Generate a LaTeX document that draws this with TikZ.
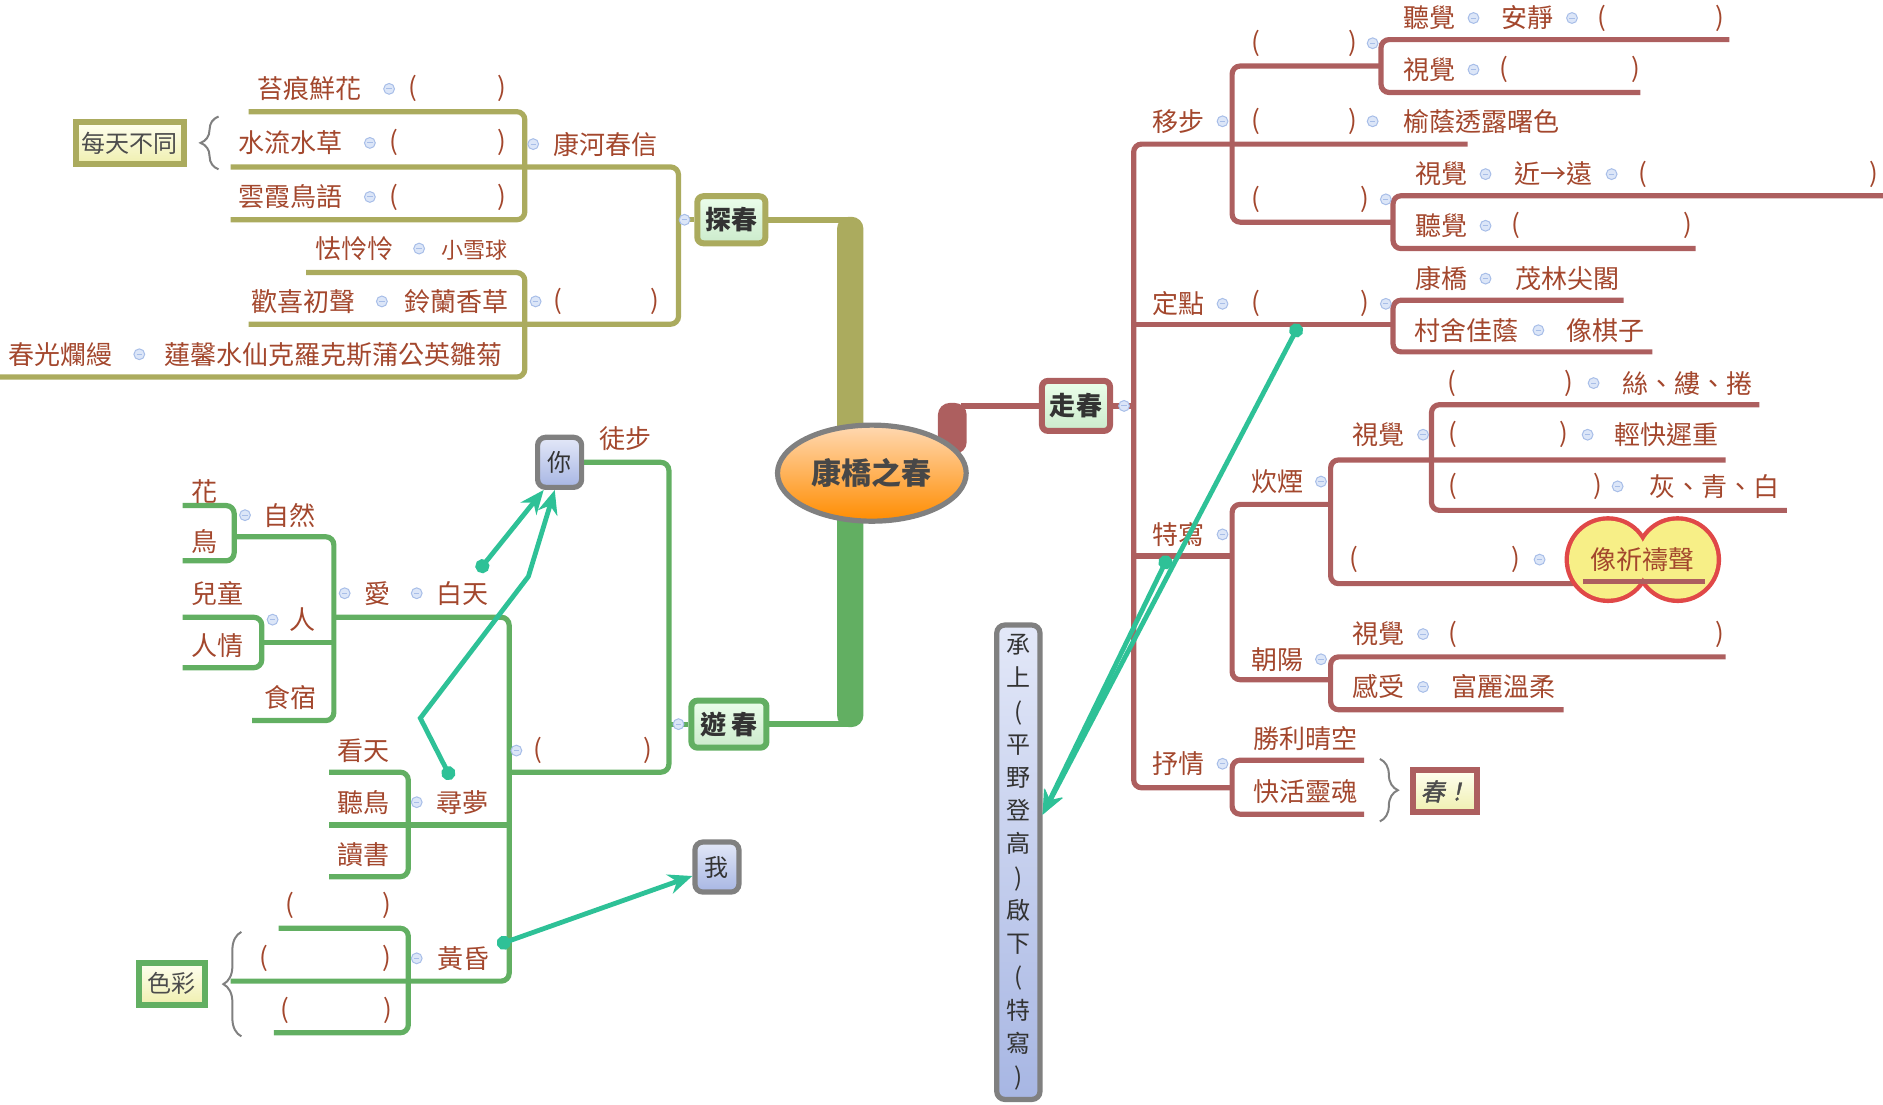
\documentclass[tikz,border=0pt]{standalone}
\usepackage{fontspec}
\setmainfont{Noto Sans CJK TC}
\newfontfamily\slfont[FakeSlant=0.22,FakeBold=1.5]{Noto Sans CJK TC}
\usetikzlibrary{arrows.meta,shapes.geometric,decorations.pathreplacing}

\definecolor{olivec}{HTML}{ABAB5E}
\definecolor{greenc}{HTML}{62AF62}
\definecolor{redc}{HTML}{AD5F5F}
\definecolor{labc}{HTML}{A3472D}
\definecolor{tealc}{HTML}{2EC197}
\definecolor{togf}{HTML}{DCE6F8}
\definecolor{togd}{HTML}{A8BEE8}
\definecolor{inkc}{HTML}{333333}
\definecolor{greyc}{HTML}{808080}
\definecolor{cloudy}{HTML}{F7EF87}
\definecolor{cloudr}{HTML}{E04848}
\definecolor{persont}{HTML}{E3E8F8}
\definecolor{personb}{HTML}{A7B6E3}

% blank ( ) of a given width
\newcommand{\bk}[1]{(\hspace*{\dimexpr 0.6pt*#1-4pt\relax})}
% collapse marker
\newcommand{\togl}[1]{\draw[togd,fill=togf,line width=0.5pt] #1 circle (4.5);
  \draw[togd,line width=0.5pt] #1 ++(-2.2,0) -- ++(4.4,0);}

\tikzset{
  lbl/.style={text=labc,font=\fontsize{13}{13}\selectfont,inner sep=0pt},
  small/.style={lbl,font=\fontsize{11}{11}\selectfont},
  limb/.style={#1,line width=2.6pt,rounded corners=4pt},
  topic/.style={rounded corners=3pt,line width=3pt,top color=black!3!green!8,bottom color=green!60!black!20,
    minimum width=34pt,minimum height=23.5pt,text=inkc,font=\bfseries\fontsize{13}{13}\selectfont},
  boxy/.style={line width=3pt,top color=yellow!6,bottom color=yellow!50!olive!25,
    minimum height=21pt,inner xsep=3pt,text=black!70,font=\fontsize{12}{12}\selectfont},
  person/.style={rounded corners=4pt,draw=greyc,line width=2.6pt,top color=persont,bottom color=personb,
    minimum width=22pt,minimum height=25pt,text=inkc,font=\fontsize{12}{12}\selectfont},
  link/.style={tealc,line width=2.4pt,{Circle[length=7pt]}-{Stealth[length=12pt,width=10pt]}},
  brc/.style={black!50,line width=1pt,decorate,decoration={brace,amplitude=#1}}
}

\begin{document}
\begin{tikzpicture}[x=0.6pt,y=-0.6pt]
\useasboundingbox (0,0) rectangle (1568,920);

% main topics
\node[topic,draw=olivec] (tc) at (609,183) {探春};
\node[topic,draw=greenc,minimum width=37.5pt] (yc) at (607,603) {遊\,春};
\node[topic,draw=redc,minimum height=25pt] (zc) at (896,338) {走春};

% trunks
\fill[olivec,rounded corners=6pt] (697,180.5) rectangle (719,380);
\draw[olivec,line width=3pt] (tc.east) -- (705,183);
\fill[greenc,rounded corners=6pt] (697,410) rectangle (719,605.5);
\draw[greenc,line width=3pt] (yc.east) -- (705,603);
\fill[redc,rounded corners=6pt] (781,335.5) rectangle (805,378);
\draw[redc,line width=3pt] (800,338) -- (zc.west);

\node[ellipse,draw=greyc,line width=2.6pt,top color=orange!30!white,bottom color=orange!90!yellow,
  minimum width=94pt,minimum height=48pt,text=black!72,font=\bfseries\fontsize{15}{15}\selectfont] (kq) at (726,394) {康橋之春};

% 探春
\draw[limb=olivec] (207,93) -| (437,183) -- (192,183);
\draw[limb=olivec] (192,139) -| (565,270) -- (207,270);
\draw[limb=olivec] (255,227) -| (437,314) -- (0,314);
\draw[limb=olivec] (565,183) -- (tc.west);
\togl{(570,183)}
\node[lbl] (kh) at (504,120) {康河春信};
\togl{(444,120)}
\node[lbl] (th) at (258,74) {苔痕鮮花};
\togl{(324,74)}
\node[lbl] (thq) at (381,74) {\bk{74}};
\node[lbl] (sl) at (242,119) {水流水草};
\togl{(308,119)}
\node[lbl] (slq) at (373,119) {\bk{90}};
\node[lbl] (yx) at (242,164) {雲霞鳥語};
\togl{(308,164)}
\node[lbl] (yxq) at (373,164) {\bk{90}};
\node[boxy,draw=olivec,minimum width=52pt] (mt) at (108,119) {每天不同};
\draw[brc=9pt] (182,141) -- (182,97);
\node[lbl] (ql) at (295,207) {怯怜怜};
\togl{(349,207)}
\node[small] (xq) at (395,208) {小雪球};
\node[lbl] (hx) at (253,251) {歡喜初聲};
\togl{(318,251)}
\node[lbl] (ll) at (380,251) {鈴蘭香草};
\togl{(446,251)}
\node[lbl] (llq) at (505,251) {\bk{80}};
\node[lbl] (cg) at (50,295) {春光爛縵};
\togl{(116,295)}
\node[lbl] (lx) at (278,295) {蓮馨水仙克羅克斯蒲公英雛菊};

% 遊春
\node[person] (ni) at (466,385) {你};
\node[person] (wo) at (597,722) {我};
\draw[limb=greenc] (ni.east) -| (557,643) -- (424,643);
\draw[limb=greenc] (557,603) -- (yc.west);
\draw[limb=greenc] (278,514) -| (424,817) -- (192,817);
\draw[limb=greenc] (274,687) -- (424,687);
\draw[limb=greenc] (274,643) -| (340,730) -- (274,730);
\draw[limb=greenc] (232,773) -| (340,860) -- (228,860);
\draw[limb=greenc] (195,447) -| (278,600) -- (210,600);
\draw[limb=greenc] (218,535) -- (278,535);
\draw[limb=greenc] (152,421) -| (195,467) -- (152,467);
\draw[limb=greenc] (152,514) -| (218,556) -- (152,556);
\togl{(565,603)}
\node[lbl] (tb) at (521,365) {徒步};
\togl{(430,625)}
\node[lbl] (ycq) at (494,625) {\bk{91}};
\togl{(287,494)}
\node[lbl] (ai) at (314,494) {愛};
\togl{(347,494)}
\node[lbl] (bt) at (385,494) {白天};
\togl{(204,429)}
\node[lbl] (zr) at (241,429) {自然};
\node[lbl] (hua) at (170,409) {花};
\node[lbl] (niao) at (170,451) {鳥};
\togl{(227,516)}
\node[lbl] (ren) at (252,516) {人};
\node[lbl] (et) at (181,494) {兒童};
\node[lbl] (rq) at (181,538) {人情};
\node[lbl] (ss) at (242,581) {食宿};
\togl{(347,668)}
\node[lbl] (xm) at (385,668) {尋夢};
\node[lbl] (kt) at (303,625) {看天};
\node[lbl] (tn) at (303,668) {聽鳥};
\node[lbl] (ds) at (303,712) {讀書};
\togl{(347,798)}
\node[lbl] (hh) at (386,798) {黃昏};
\node[lbl] (hq1) at (282,754) {\bk{80}};
\node[lbl] (hq2) at (271,798) {\bk{102}};
\node[lbl] (hq3) at (280,841) {\bk{85}};
\node[boxy,draw=greenc,minimum width=33pt] (sc) at (143,819) {色彩};
\draw[brc=9pt] (201,863) -- (201,776);

% 走春
\draw[limb=redc] (1222,120) -| (944,656) -- (1026,656);
\draw[limb=redc] (zc.east) -- (944,338);
\draw[limb=redc] (1150,55) -| (1026,185) -- (1160,185);
\draw[limb=redc] (1440,33) -| (1150,77) -- (1366,77);
\draw[limb=redc] (1568,163) -| (1160,207) -- (1412,207);
\draw[limb=redc] (944,270) -- (1160,270);
\draw[limb=redc] (1352,250) -| (1160,293) -- (1376,293);
\draw[limb=redc] (944,463) -- (1026,463);
\draw[limb=redc] (1108,420) -| (1026,566) -- (1108,566);
\draw[limb=redc] (1437,383) -| (1108,486) -- (1322,486);
\draw[limb=redc] (1465,337) -| (1192,425) -- (1488,425);
\draw[limb=redc] (1437,547) -| (1108,591) -- (1302,591);
\draw[limb=redc] (1136,633) -| (1026,678) -- (1136,678);
\togl{(936,338)}
\node[lbl] (yb) at (981,101) {移步};
\togl{(1018,101)}
\node[lbl] (ybq1) at (1086,36) {\bk{80}};
\togl{(1143,36)}
\node[lbl] (tj1) at (1190,15) {聽覺};
\togl{(1227,15)}
\node[lbl] (aj) at (1272,15) {安靜};
\togl{(1309,15)}
\node[lbl] (ajq) at (1383,15) {\bk{97}};
\node[lbl] (sj1) at (1190,58) {視覺};
\togl{(1227,58)}
\node[lbl] (sjq1) at (1307,58) {\bk{109}};
\node[lbl] (ybq2) at (1086,101) {\bk{80}};
\togl{(1143,101)}
\node[lbl] (yy) at (1234,101) {榆蔭透露曙色};
\node[lbl] (ybq3) at (1091,166) {\bk{90}};
\togl{(1154,166)}
\node[lbl] (sj2) at (1200,145) {視覺};
\togl{(1237,145)}
\node[lbl] (jy) at (1294,145) {近→遠};
\togl{(1342,145)}
\node[lbl] (jyq) at (1464,145) {\bk{192}};
\node[lbl] (tj2) at (1200,188) {聽覺};
\togl{(1237,188)}
\node[lbl] (tjq2) at (1334,188) {\bk{142}};
\node[lbl] (dd) at (981,253) {定點};
\togl{(1018,253)}
\node[lbl] (ddq) at (1091,253) {\bk{90}};
\togl{(1154,253)}
\node[lbl] (kb) at (1200,232) {康橋};
\togl{(1237,232)}
\node[lbl] (ml) at (1305,232) {茂林尖閣};
\node[lbl] (cs1) at (1221,275) {村舍佳蔭};
\togl{(1281,275)}
\node[lbl] (xqz) at (1337,275) {像棋子};
\node[lbl] (tx) at (981,445) {特寫};
\togl{(1018,445)}
\node[lbl] (cy) at (1064,401) {炊煙};
\togl{(1100,401)}
\node[lbl] (sj3) at (1148,362) {視覺};
\togl{(1185,362)}
\node[lbl] (sjq3a) at (1258,319) {\bk{97}};
\togl{(1327,319)}
\node[lbl] (sl3) at (1405,319) {絲、縷、捲};
\node[lbl] (sjq3b) at (1256,362) {\bk{92}};
\togl{(1322,362)}
\node[lbl] (qk) at (1388,362) {輕快遲重};
\node[lbl] (sjq3c) at (1270,405) {\bk{120}};
\togl{(1347,405)}
\node[lbl] (hqb) at (1428,405) {灰、青、白};
\node[lbl] (cyq) at (1195,466) {\bk{134}};
\togl{(1282,466)}
\draw[cloudr,fill=cloudy,line width=2.6pt] (1339,466) circle (34) (1397,466) circle (34);
\fill[cloudy] (1339,466) circle (32.5) (1397,466) circle (32.5);
\node[lbl] (qd) at (1368,466) {像祈禱聲};
\draw[redc,line width=2.6pt] (1318,484) -- (1420,484);
\node[lbl] (zy) at (1064,549) {朝陽};
\togl{(1100,549)}
\node[lbl] (sj4) at (1148,528) {視覺};
\togl{(1185,528)}
\node[lbl] (sjq4) at (1321,528) {\bk{221}};
\node[lbl] (gs) at (1148,572) {感受};
\togl{(1185,572)}
\node[lbl] (fl) at (1252,572) {富麗溫柔};
\node[lbl] (sq) at (981,636) {抒情};
\togl{(1018,636)}
\node[lbl] (sl4) at (1087,615) {勝利晴空};
\node[lbl] (kl) at (1087,659) {快活靈魂};
\draw[brc=9pt] (1149,632) -- (1149,684);
\node[boxy,draw=redc,minimum width=32pt,font=\slfont\fontsize{12}{12}\selectfont] (ch) at (1203,659) {春！};

% 承上啟下
\node[person,minimum width=21.6pt,minimum height=237pt,align=center,font=\fontsize{12}{16.6}\selectfont] (cs) at (848,718)
  {承\\上\\(\\平\\野\\登\\高\\)\\啟\\下\\(\\特\\寫\\)};

% links
\coordinate (d1) at (398,476);
\coordinate (d2) at (376,649);
\coordinate (d3) at (414,787);
\coordinate (d4) at (1082,270);
\coordinate (d5) at (973,463);
\draw[link] (d1) -- (ni.-120);
\draw[link] (d2) -- (350,598) -- (440,480) -- (ni.-100);
\draw[link] (d3) -- (wo.200);
\draw[link] (d4) -- (cs.63);
\draw[link] (d5) -- (cs.63);
\end{tikzpicture}
\end{document}
